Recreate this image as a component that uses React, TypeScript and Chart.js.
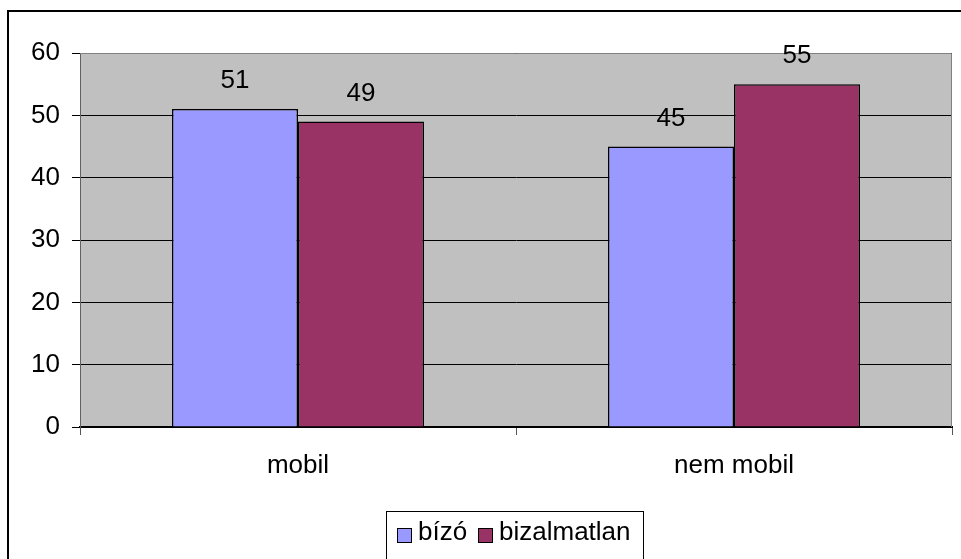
import React, { useEffect, useRef } from "react";
import { Chart, registerables } from "chart.js";

Chart.register(...registerables);

const categories = ["mobil", "nem mobil"];
const seriesNames = ["bízó", "bizalmatlan"];
const bizoValues = [51, 45];
const bizalmatlanValues = [49, 55];
const yTicks = [0, 10, 20, 30, 40, 50, 60];

const FONT = "'Liberation Sans', Arial, sans-serif";
const FS = 26;

const framePlugin = {
  id: "frame",
  beforeDraw(chart: any) {
    const { ctx, chartArea } = chart;
    ctx.save();
    ctx.fillStyle = "#ffffff";
    ctx.fillRect(0, 0, chart.width, chart.height);
    ctx.strokeStyle = "#000000";
    ctx.lineWidth = 2;
    ctx.beginPath();
    ctx.moveTo(8, chart.height + 5);
    ctx.lineTo(8, 11);
    ctx.lineTo(chart.width + 5, 11);
    ctx.stroke();
    ctx.fillStyle = "#C0C0C0";
    ctx.fillRect(chartArea.left, chartArea.top, chartArea.right - chartArea.left, chartArea.bottom - chartArea.top);
    ctx.restore();
  },
  afterDatasetsDraw(chart: any) {
    const { ctx, chartArea } = chart;
    ctx.save();
    ctx.strokeStyle = "#808080";
    ctx.lineWidth = 1;
    ctx.beginPath();
    ctx.moveTo(chartArea.left, chartArea.top + 0.5);
    ctx.lineTo(chartArea.right - 0.5, chartArea.top + 0.5);
    ctx.lineTo(chartArea.right - 0.5, chartArea.bottom);
    ctx.stroke();
    ctx.fillStyle = "#000000";
    ctx.font = `${FS}px ${FONT}`;
    ctx.textAlign = "center";
    ctx.textBaseline = "middle";
    chart.data.datasets.forEach((ds: any, di: number) => {
      const meta = chart.getDatasetMeta(di);
      meta.data.forEach((bar: any, i: number) => {
        ctx.fillText(String(ds.data[i]), bar.x, bar.y - 28);
      });
    });
    const lx = 386, ly = 511, lw = 257, lh = 48;
    ctx.strokeStyle = "#000000";
    ctx.lineWidth = 1;
    ctx.strokeRect(lx + 0.5, ly + 0.5, lw, lh);
    const items = [
      { sx: 397, tx: 418 },
      { sx: 478, tx: 499 },
    ];
    ctx.textAlign = "left";
    ctx.textBaseline = "alphabetic";
    chart.data.datasets.forEach((ds: any, di: number) => {
      const it = items[di];
      ctx.fillStyle = ds.backgroundColor;
      ctx.fillRect(it.sx, 528, 15, 15);
      ctx.strokeStyle = "#000000";
      ctx.strokeRect(it.sx + 0.5, 528.5, 14, 14);
      ctx.fillStyle = "#000000";
      ctx.fillText(ds.label, it.tx, 540);
    });
    ctx.restore();
  },
};

export default function App() {
  const ref = useRef<HTMLCanvasElement>(null);
  useEffect(() => {
    if (!ref.current) return;
    const chart = new Chart(ref.current, {
      type: "bar",
      data: {
        labels: categories,
        datasets: [
          {
            label: seriesNames[0],
            data: bizoValues,
            backgroundColor: "#9999FF",
            borderColor: "#000000",
            borderWidth: 1.5,
          },
          {
            label: seriesNames[1],
            data: bizalmatlanValues,
            backgroundColor: "#993366",
            borderColor: "#000000",
            borderWidth: 1.5,
          },
        ],
      },
      plugins: [framePlugin],
      options: {
        responsive: false,
        animation: false,
        events: [],
        layout: { padding: { top: 53, left: 0, right: 9, bottom: 0 } },
        datasets: { bar: { categoryPercentage: 0.578, barPercentage: 1 } },
        plugins: { legend: { display: false }, tooltip: { enabled: false } },
        scales: {
          x: {
            offset: true,
            grid: {
              display: true,
              offset: true,
              drawOnChartArea: false,
              drawTicks: true,
              tickLength: 8,
              color: "#555555",
            },
            border: { display: true, color: "#000000", width: 2 },
            ticks: {
              color: "#000000",
              font: { family: FONT, size: FS },
              padding: 15,
            },
            afterFit(scale: any) {
              scale.height = 132;
            },
          },
          y: {
            min: 0,
            max: 60,
            afterBuildTicks(scale: any) {
              scale.ticks = yTicks.map((v) => ({ value: v }));
            },
            grid: {
              color: "#000000",
              lineWidth: 1,
              tickLength: 8,
              tickColor: "#000000",
            },
            border: { display: true, color: "#606060", width: 1 },
            ticks: {
              color: "#000000",
              font: { family: FONT, size: FS },
              padding: 12,
            },
            afterFit(scale: any) {
              scale.width = 80;
            },
          },
        },
      },
    });
    return () => chart.destroy();
  }, []);
  return (
    <canvas
      ref={ref}
      width={961}
      height={559}
      style={{ position: "fixed", left: 0, top: 0, width: 961, height: 559 }}
    />
  );
}
